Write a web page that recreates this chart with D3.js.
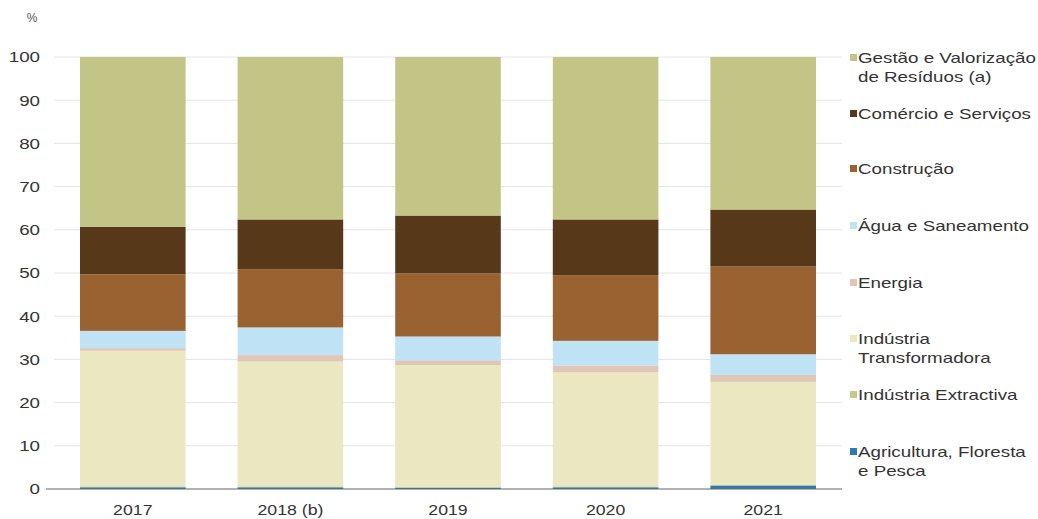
<!doctype html>
<html>
  <head>
    <meta charset="utf-8">
    <style>
      body { margin: 0; background: #fff; }
      text { font-family: "Liberation Sans", Arial, sans-serif; fill: #333; }
    </style>
  </head>
  <body>
    <svg id="chart" width="1038" height="519"></svg>

  <script src="https://cdn.jsdelivr.net/npm/d3@7/dist/d3.min.js"></script>
  <script>
  // data (percent of total, bottom to top)
  const years = ["2017", "2018 (b)", "2019", "2020", "2021"];
  const agricultura   = [0.4, 0.4, 0.3, 0.4, 0.8];
  const extractiva    = [0.2, 0.2, 0.2, 0.2, 0.2];
  const transformadora = [31.4, 28.9, 28.2, 26.4, 23.8];
  const energia       = [0.6, 1.5, 1.1, 1.6, 1.6];
  const agua          = [4.0, 6.4, 5.5, 5.7, 4.8];
  const construcao    = [13.1, 13.5, 14.6, 15.2, 20.3];
  const comercio      = [11.0, 11.5, 13.4, 12.9, 13.2];
  const gestao        = [39.3, 37.6, 36.7, 37.6, 35.3];
  const yTicks = [0, 10, 20, 30, 40, 50, 60, 70, 80, 90, 100];

  // series bottom -> top
  const series = [
    { key: "agr", label: ["Agricultura, Floresta", "e Pesca"], color: "#2b7bb4", values: agricultura },
    { key: "ext", label: ["Indústria Extractiva"], color: "#c6c98c", values: extractiva },
    { key: "tra", label: ["Indústria", "Transformadora"], color: "#ebe8c1", values: transformadora },
    { key: "ene", label: ["Energia"], color: "#dfc6b6", values: energia },
    { key: "agu", label: ["Água e Saneamento"], color: "#bfe2f5", values: agua },
    { key: "con", label: ["Construção"], color: "#9a6131", values: construcao },
    { key: "com", label: ["Comércio e Serviços"], color: "#573819", values: comercio },
    { key: "ges", label: ["Gestão e Valorização", "de Resíduos (a)"], color: "#c3c587", values: gestao }
  ];

  let rows = years.map(function (y, i) {
    let r = { year: y };
    series.forEach(function (s) { r[s.key] = s.values[i]; });
    return r;
  });

  // the source text looks stretched sideways, so widen glyphs a bit
  function stretch(sel, f) {
    sel.each(function () {
      let w = this.getComputedTextLength();
      d3.select(this).attr("textLength", w * f).attr("lengthAdjust", "spacingAndGlyphs");
    });
  }

  let margin = { top: 57, right: 196, bottom: 30, left: 54 };
  let width = 1038 - margin.left - margin.right;
  let height = 519 - margin.top - margin.bottom;

  let svg = d3.select("#chart")
    .append("g")
    .attr("transform", "translate(" + margin.left + "," + margin.top + ")");

  let x = d3.scaleBand().domain(years).range([0, width]).paddingInner(0.33).paddingOuter(0.165);
  let y = d3.scaleLinear().domain([0, 100]).range([height, 0]);

  // gridlines
  svg.append("g")
    .selectAll("line")
    .data(yTicks.slice(1))
    .join("line")
    .attr("x1", 0)
    .attr("x2", width)
    .attr("y1", function (d) { return y(d); })
    .attr("y2", function (d) { return y(d); })
    .attr("stroke", "#e4e4e4")
    .attr("stroke-width", 1);

  let stack = d3.stack().keys(series.map(function (s) { return s.key; }));
  let stacked = stack(rows);

  svg.append("g")
    .selectAll("g")
    .data(stacked)
    .join("g")
    .attr("fill", function (d, i) { return series[i].color; })
    .selectAll("rect")
    .data(function (d) { return d; })
    .join("rect")
    .attr("x", function (d) { return x(d.data.year); })
    .attr("y", function (d) { return y(d[1]); })
    .attr("height", function (d) { return y(d[0]) - y(d[1]); })
    .attr("width", x.bandwidth());

  // y axis labels
  let yAxis = svg.append("g")
    .call(d3.axisLeft(y).tickValues(yTicks).tickSize(0).tickPadding(14));
  yAxis.select(".domain").remove();
  yAxis.selectAll("text")
    .style("font-family", "Liberation Sans, Arial, sans-serif")
    .style("font-size", "15px")
    .attr("fill", "#333");
  stretch(yAxis.selectAll("text"), 1.25);

  svg.append("text")
    .attr("x", -22)
    .attr("y", -35)
    .attr("text-anchor", "middle")
    .style("font-size", "12px")
    .style("fill", "#555")
    .text("%");

  // x axis
  let xAxis = svg.append("g")
    .attr("transform", "translate(0," + height + ")")
    .call(d3.axisBottom(x).tickSize(0).tickPadding(15));
  xAxis.select(".domain").attr("stroke", "#666").attr("stroke-width", 1.2).attr("d", "M-8,0H" + width);
  xAxis.selectAll("text")
    .style("font-family", "Liberation Sans, Arial, sans-serif")
    .style("font-size", "15px")
    .attr("fill", "#333");
  stretch(xAxis.selectAll("text"), 1.18);

  // legend, top entry first
  const legendY = [58, 114, 169, 226, 283, 339, 395, 452];
  let legend = d3.select("#chart").append("g");
  series.slice().reverse().forEach(function (s, i) {
    let g = legend.append("g").attr("transform", "translate(850," + legendY[i] + ")");
    g.append("rect")
      .attr("x", 0)
      .attr("y", -4)
      .attr("width", 7)
      .attr("height", 7)
      .attr("fill", s.color);
    s.label.forEach(function (line, k) {
      g.append("text")
        .attr("x", 8)
        .attr("y", k * 19)
        .attr("dy", "0.35em")
        .style("font-size", "15px")
        .text(line);
    });
  });
  stretch(legend.selectAll("text"), 1.25);
  </script>
  </body>
</html>
